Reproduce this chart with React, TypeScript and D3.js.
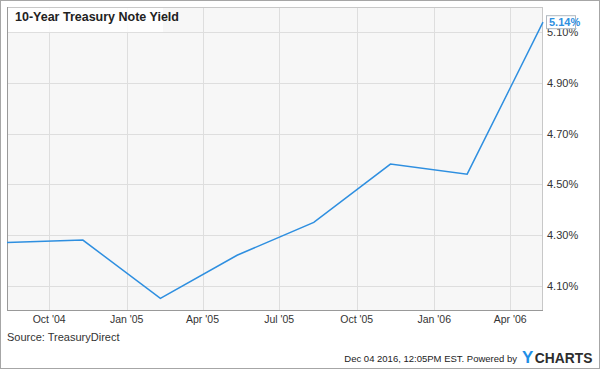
import React from "react";
import * as d3 from "d3";

const width = 600;
const height = 369;
const plot = { left: 7, top: 7, right: 543, bottom: 311 };

// 10-year note auction yields (quarterly)
const auctionDates = [
  "2004-08-12",
  "2004-11-10",
  "2005-02-10",
  "2005-05-12",
  "2005-08-11",
  "2005-11-10",
  "2006-02-09",
  "2006-05-10",
];
const yields = [4.27, 4.28, 4.05, 4.22, 4.35, 4.58, 4.54, 5.14];

const yTicks = [4.1, 4.3, 4.5, 4.7, 4.9, 5.1];
const xTickDates = [
  "2004-10-01",
  "2005-01-01",
  "2005-04-01",
  "2005-07-01",
  "2005-10-01",
  "2006-01-01",
  "2006-04-01",
];
const xTickLabels = ["Oct '04", "Jan '05", "Apr '05", "Jul '05", "Oct '05", "Jan '06", "Apr '06"];

const parse = d3.utcParse("%Y-%m-%d");
const font = "'Liberation Sans', Arial, sans-serif";
const lineColor = "#2e8fe0";

export default function App() {
  const dates = auctionDates.map((d) => parse(d) as Date);
  const data = dates.map((d, i) => ({ date: d, value: yields[i] }));

  const x = d3
    .scaleUtc()
    .domain(d3.extent(dates) as [Date, Date])
    .range([plot.left, plot.right]);
  const y = d3.scaleLinear().domain([4.0, 5.2]).range([plot.bottom, plot.top]);

  const line = d3
    .line<{ date: Date; value: number }>()
    .x((d) => x(d.date))
    .y((d) => y(d.value));

  const last = data[data.length - 1];
  const lastX = x(last.date);
  const lastY = y(last.value);

  return (
    <svg
      width={width}
      height={height}
      style={{ position: "absolute", left: 0, top: 0, background: "#fff" }}
      fontFamily={font}
    >
      <rect x={0.5} y={0.5} width={width - 1} height={height - 1} fill="#fff" stroke="#a6a6a6" />

      {/* plot area */}
      <rect
        x={plot.left}
        y={plot.top}
        width={plot.right - plot.left}
        height={plot.bottom - plot.top}
        fill="#f7f7f7"
      />

      {/* grid */}
      {yTicks.map((t) => (
        <line
          key={"gy" + t}
          x1={plot.left}
          x2={plot.right}
          y1={Math.round(y(t)) + 0.5}
          y2={Math.round(y(t)) + 0.5}
          stroke="#dedede"
        />
      ))}
      {xTickDates.map((t) => {
        const xx = Math.round(x(parse(t) as Date)) + 0.5;
        return (
          <line key={"gx" + t} x1={xx} x2={xx} y1={plot.top} y2={plot.bottom} stroke="#dedede" />
        );
      })}

      {/* plot border */}
      <rect
        x={plot.left + 0.5}
        y={plot.top + 0.5}
        width={plot.right - plot.left - 1}
        height={plot.bottom - plot.top - 1}
        fill="none"
        stroke="#c8c8c8"
      />
      <line x1={plot.left + 0.5} x2={plot.left + 0.5} y1={plot.top} y2={plot.bottom} stroke="#999" />
      <line x1={plot.left} x2={plot.right} y1={plot.bottom - 0.5} y2={plot.bottom - 0.5} stroke="#999" />

      {/* title */}
      <rect x={plot.left + 1} y={plot.top + 1} width={155} height={24} fill="#fff" opacity={0.85} />
      <text x={15} y={21} fontSize={12.5} fontWeight="bold" fill="#222">
        10-Year Treasury Note Yield
      </text>

      {/* series */}
      <path d={line(data) || ""} fill="none" stroke={lineColor} strokeWidth={1.5} />

      {/* y axis labels */}
      {yTicks.map((t) => (
        <text key={"ty" + t} x={547} y={y(t) + 4} fontSize={11} fill="#333">
          {t.toFixed(2) + "%"}
        </text>
      ))}

      {/* x axis labels */}
      {xTickDates.map((t, i) => (
        <text
          key={"tx" + t}
          x={x(parse(t) as Date)}
          y={323}
          fontSize={10.5}
          fill="#333"
          textAnchor="middle"
        >
          {xTickLabels[i]}
        </text>
      ))}

      {/* last value flag */}
      <rect
        x={lastX + 3.5}
        y={lastY - 6.5}
        width={29}
        height={13}
        fill="#fff"
        stroke="#b0b8c0"
      />
      <text x={lastX + 6} y={lastY + 4} fontSize={11} fontWeight="bold" fill={lineColor}>
        {last.value.toFixed(2) + "%"}
      </text>

      {/* footer */}
      <text x={7} y={341} fontSize={11} fill="#333">
        Source: TreasuryDirect
      </text>
      <text
        x={517}
        y={362}
        fontSize={9.5}
        fill="#222"
        textAnchor="end"
        fontFamily="'Liberation Sans Narrow', 'Liberation Sans', Arial, sans-serif"
      >
        Dec 04 2016, 12:05PM EST.  Powered by
      </text>
      <text x={522} y={363} fontWeight="bold">
        <tspan fontSize={17} fill="#1f8fe6">Y</tspan>
        <tspan fontSize={13.8} fill="#2d2d2d" dx={1.5}>CHARTS</tspan>
      </text>
    </svg>
  );
}
